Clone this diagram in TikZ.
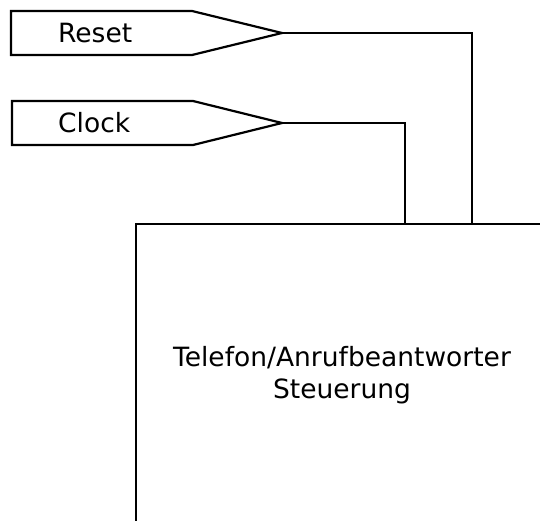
\documentclass[tikz,border=0pt]{standalone}
\usepackage{fontspec}
\setmainfont{DejaVu Sans}
\begin{document}
\begin{tikzpicture}[x=1pt,y=-1pt,
  wire/.style={line width=2.2pt,line join=miter},
  label/.style={inner sep=0pt,font=\fontsize{26.5}{32}\selectfont}]
\useasboundingbox (0,0) rectangle (540,521);

% input ports (arrow-shaped pins)
\draw[wire] (11,11) -- (192,11) -- (282,33) coordinate (resetTip) -- (192,55) -- (11,55) -- cycle;
\node[label,anchor=base west] (resetLbl) at (58,43) {Reset};
\draw[wire] (12,101) -- (193,101) -- (282,123) coordinate (clockTip) -- (193,145) -- (12,145) -- cycle;
\node[label,anchor=base west] (clockLbl) at (58,133) {Clock};

% control block (top and left edges visible)
\coordinate (boxTL) at (136,224);
\coordinate (boxTR) at (540,224);
\coordinate (boxBL) at (136,521);
\draw[wire] (boxBL) -- (boxTL) -- (boxTR);
\coordinate (resetIn) at (472,224);
\coordinate (clockIn) at (405,224);
\node[label,anchor=base] (title1) at (342,366) {Telefon/Anrufbeantworter};
\node[label,anchor=base] (title2) at (342,398) {Steuerung};

% signal wires
\draw[wire] (resetTip) -| (resetIn);
\draw[wire] (clockTip) -| (clockIn);
\end{tikzpicture}
\end{document}
